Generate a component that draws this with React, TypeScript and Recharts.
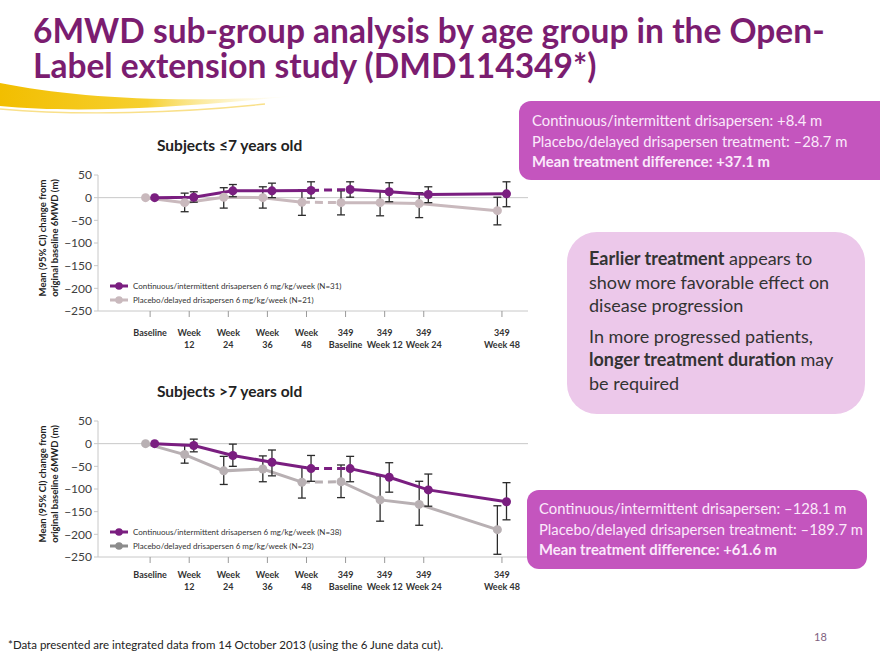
import React from 'react';
import { LineChart, Line, XAxis, YAxis, ReferenceLine, ErrorBar } from 'recharts';

// x positions in weeks (349 baseline = week 60)
const WEEKS = [0, 12, 24, 36, 48, 60, 72, 84, 108];
const TICK_LABELS = [
  ['Baseline'],
  ['Week', '12'],
  ['Week', '24'],
  ['Week', '36'],
  ['Week', '48'],
  ['349', 'Baseline'],
  ['349', 'Week 12'],
  ['349', 'Week 24'],
  ['349', 'Week 48'],
];
const Y_TICKS = [50, 0, -50, -100, -150, -200, -250];

// Subjects <=7 years old
const YOUNG_CONT_MEAN = [0, 1, 15, 15, 16, 18, 13, 7, 8.4];
const YOUNG_CONT_LO = [0, -10, 2, 0, -1, 1, -9, -11, -20];
const YOUNG_CONT_HI = [0, 13, 29, 32, 35, 35, 33, 24, 35];
const YOUNG_PLAC_MEAN = [0, -11, 1, 0, -10, -11, -11, -13, -28.7];
const YOUNG_PLAC_LO = [0, -31, -23, -23, -39, -38, -40, -44, -60];
const YOUNG_PLAC_HI = [0, 10, 22, 24, 17, 15, 15, 11, 1];

// Subjects >7 years old
const OLD_CONT_MEAN = [0, -4, -26, -41, -55, -55, -74, -102, -128.1];
const OLD_CONT_LO = [0, -18, -50, -71, -83, -84, -107, -138, -168];
const OLD_CONT_HI = [0, 10, -1, -14, -26, -28, -42, -67, -86];
const OLD_PLAC_MEAN = [0, -24, -60, -56, -85, -84, -124, -134, -189.7];
const OLD_PLAC_LO = [0, -43, -90, -84, -120, -119, -171, -180, -244];
const OLD_PLAC_HI = [0, -4, -28, -27, -51, -47, -71, -83, -137];

const PURPLE = '#7a1e80';
const FONT = 'Lato, "Open Sans", sans-serif';
const DODGE = 1.4; // weeks, so the two groups don't overlap

type Pt = { x: number; y: number; err: [number, number] };

const makePoints = (mean: number[], lo: number[], hi: number[], shift: number): Pt[] =>
  mean.map((m, i) => ({ x: WEEKS[i] + shift, y: m, err: [m - lo[i], hi[i] - m] }));

// solid up to week 48, dashed into the 349 baseline, solid afterwards
const split = (pts: Pt[]) => ({
  first: pts.slice(0, 5),
  gap: pts.slice(4, 6),
  second: pts.slice(5),
  bars: pts.slice(1),
});

const fmtY = (v: number) => String(v).replace('-', '\u2212');

const makeXTick = (dy: number) => (props: any) => {
  const { x, y, payload } = props;
  const lines = TICK_LABELS[WEEKS.indexOf(payload.value)] || [];
  return (
    <g transform={`translate(${x},${y})`}>
      <text textAnchor="middle" fontSize={9} fontWeight="bold" fill="#333" fontFamily={FONT}>
        {lines.map((l, i) => (
          <tspan key={i} x={0} dy={i === 0 ? dy : 12}>{l}</tspan>
        ))}
      </text>
    </g>
  );
};

interface PanelProps {
  top: number;
  title: string;
  cont: Pt[];
  plac: Pt[];
  placColor: string;
  placLegendColor: string;
  contLabel: string;
  placLabel: string;
  tickDy: number;
}

function Panel({ top, title, cont, plac, placColor, placLegendColor, contLabel, placLabel, tickDy }: PanelProps) {
  const c = split(cont);
  const p = split(plac);
  const lineProps = { type: 'linear' as const, dataKey: 'y', isAnimationActive: false, strokeWidth: 3, activeDot: false };
  const barLine = (data: Pt[], key: string) => (
    <Line key={key} data={data} dataKey="y" stroke="none" dot={false} activeDot={false} isAnimationActive={false} legendType="none">
      <ErrorBar dataKey="err" direction="y" width={4} strokeWidth={1.3} stroke="#2b2b2b" />
    </Line>
  );
  return (
    <div style={{ position: 'absolute', left: 0, top, width: 540, height: 201 }}>
      <LineChart width={540} height={201} margin={{ top: 25, right: 12, left: 0, bottom: 0 }}>
        <XAxis
          dataKey="x"
          type="number"
          domain={[-16, 116]}
          ticks={WEEKS}
          interval={0}
          height={40}
          tick={makeXTick(tickDy)}
          tickSize={6}
          tickMargin={2}
          axisLine={{ stroke: '#c8c8c8' }}
          tickLine={{ stroke: '#9a9a9a' }}
        />
        <YAxis
          type="number"
          domain={[-250, 50]}
          ticks={Y_TICKS}
          interval={0}
          width={98}
          tickFormatter={fmtY}
          tick={{ fontSize: 12, fill: '#404040', fontFamily: FONT }}
          tickSize={4}
          axisLine={{ stroke: '#c8c8c8' }}
          tickLine={{ stroke: '#c8c8c8' }}
        />
        <ReferenceLine y={0} stroke="#c8c8c8" strokeWidth={1} />
        {barLine(p.bars, 'pb')}
        <Line {...lineProps} data={p.first} stroke={placColor} dot={{ r: 4.5, fill: placColor, strokeWidth: 0 }} />
        <Line {...lineProps} data={p.gap} stroke={placColor} strokeDasharray="8 5" dot={false} />
        <Line {...lineProps} data={p.second} stroke={placColor} dot={{ r: 4.5, fill: placColor, strokeWidth: 0 }} />
        {barLine(c.bars, 'cb')}
        <Line {...lineProps} data={c.first} stroke={PURPLE} dot={{ r: 4.5, fill: PURPLE, strokeWidth: 0 }} />
        <Line {...lineProps} data={c.gap} stroke={PURPLE} strokeDasharray="8 5" dot={false} />
        <Line {...lineProps} data={c.second} stroke={PURPLE} dot={{ r: 4.5, fill: PURPLE, strokeWidth: 0 }} />
      </LineChart>
      <div style={{ position: 'absolute', left: 157, top: -14, fontFamily: FONT, fontWeight: 'bold', fontSize: 15.5, color: '#222', whiteSpace: 'nowrap' }}>
        {title}
      </div>
      <svg style={{ position: 'absolute', left: 0, top: 0 }} width={100} height={201}>
        <text transform="translate(46,88) rotate(-90)" textAnchor="middle" fontSize={9.5} fontWeight="bold" fill="#222" fontFamily={FONT}>
          Mean (95% CI) change from
        </text>
        <text transform="translate(58,88) rotate(-90)" textAnchor="middle" fontSize={9.5} fontWeight="bold" fill="#222" fontFamily={FONT}>
          original baseline 6MWD (m)
        </text>
      </svg>
      <svg style={{ position: 'absolute', left: 108, top: 128 }} width={300} height={32}>
        {[
          { color: PURPLE, label: contLabel },
          { color: placLegendColor, label: placLabel },
        ].map((it, i) => (
          <g key={i} transform={`translate(0,${8 + i * 14})`}>
            <line x1={2} x2={20} y1={0} y2={0} stroke={it.color} strokeWidth={3} />
            <circle cx={11} cy={0} r={3.8} fill={it.color} />
            <text x={25} y={3} fontSize={8} fill="#333" fontFamily={FONT}>{it.label}</text>
          </g>
        ))}
      </svg>
    </div>
  );
}

const boxText: React.CSSProperties = { fontFamily: FONT, fontSize: 14.8, lineHeight: '20.5px', color: '#fbe9fb', whiteSpace: 'nowrap' };
const titleLine: React.CSSProperties = { height: 35, lineHeight: '35px', whiteSpace: 'nowrap' };

export default function App() {
  const young = { cont: makePoints(YOUNG_CONT_MEAN, YOUNG_CONT_LO, YOUNG_CONT_HI, DODGE), plac: makePoints(YOUNG_PLAC_MEAN, YOUNG_PLAC_LO, YOUNG_PLAC_HI, -DODGE) };
  const old = { cont: makePoints(OLD_CONT_MEAN, OLD_CONT_LO, OLD_CONT_HI, DODGE), plac: makePoints(OLD_PLAC_MEAN, OLD_PLAC_LO, OLD_PLAC_HI, -DODGE) };

  return (
    <div style={{ position: 'absolute', left: 0, top: 0, width: 880, height: 660, overflow: 'hidden', background: '#fff', fontFamily: FONT }}>
      <svg style={{ position: 'absolute', left: 0, top: 0 }} width={880} height={130}>
        <defs>
          <linearGradient id="sw" x1="0" x2="1" y1="0" y2="0">
            <stop offset="0" stopColor="#f2be00" />
            <stop offset="0.5" stopColor="#f6d030" />
            <stop offset="1" stopColor="#fff6c8" stopOpacity="0" />
          </linearGradient>
        </defs>
        <path d="M0,83 C70,97 170,104 295,96 C170,109 70,113 0,106 Z" fill="url(#sw)" />
        <path d="M0,109 C80,116 180,113 265,104" stroke="#f9e08a" strokeWidth={1.4} fill="none" />
      </svg>
      <div style={{ position: 'absolute', left: 33, top: 13, fontSize: 33.5, fontWeight: 'bold', color: '#7b1d70' }}>
        <div style={titleLine}>6MWD sub-group analysis by age group in the Open-</div>
        <div style={titleLine}>Label extension study (DMD114349*)</div>
      </div>

      <Panel
        top={150}
        title={'Subjects \u22647 years old'}
        cont={young.cont}
        plac={young.plac}
        placColor="#c9b9bd"
        placLegendColor="#c9b9bd"
        contLabel="Continuous/intermittent drisapersen 6 mg/kg/week (N=31)"
        placLabel="Placebo/delayed drisapersen 6 mg/kg/week (N=21)"
        tickDy={17}
      />
      <Panel
        top={396}
        title="Subjects >7 years old"
        cont={old.cont}
        plac={old.plac}
        placColor="#b8b0b3"
        placLegendColor="#8c8c8c"
        contLabel="Continuous/intermittent drisapersen 6 mg/kg/week (N=38)"
        placLabel="Placebo/delayed drisapersen 6 mg/kg/week (N=23)"
        tickDy={13}
      />

      <div style={{ position: 'absolute', left: 519, top: 101, width: 380, height: 79, borderRadius: 12, background: '#c455be' }}>
        <div style={{ ...boxText, position: 'absolute', left: 13, top: 9 }}>
          Continuous/intermittent drisapersen: +8.4 m<br />
          Placebo/delayed drisapersen treatment: {'\u2013'}28.7 m<br />
          <b>Mean treatment difference: +37.1 m</b>
        </div>
      </div>

      <div style={{ position: 'absolute', left: 567, top: 232, width: 298, height: 182, borderRadius: 30, background: '#ecc8ea' }}>
        <div style={{ position: 'absolute', left: 22, top: 15, fontSize: 18, lineHeight: '23.5px', color: '#333', width: 280, whiteSpace: 'nowrap' }}>
          <div><b>Earlier treatment</b> appears to<br />show more favorable effect on<br />disease progression</div>
          <div style={{ marginTop: 7 }}>In more progressed patients,<br /><b>longer treatment duration</b> may<br />be required</div>
        </div>
      </div>

      <div style={{ position: 'absolute', left: 527, top: 490, width: 340, height: 79, borderRadius: 12, background: '#c455be' }}>
        <div style={{ ...boxText, position: 'absolute', left: 12, top: 8 }}>
          Continuous/intermittent drisapersen: {'\u2013'}128.1 m<br />
          Placebo/delayed drisapersen treatment: {'\u2013'}189.7 m<br />
          <b>Mean treatment difference: +61.6 m</b>
        </div>
      </div>

      <div style={{ position: 'absolute', left: 8, top: 638, fontSize: 11.5, color: '#222', whiteSpace: 'nowrap' }}>
        *Data presented are integrated data from 14 October 2013 (using the 6 June data cut).
      </div>
      <div style={{ position: 'absolute', left: 814, top: 630, fontSize: 11, color: '#7f5f7f' }}>18</div>
    </div>
  );
}
